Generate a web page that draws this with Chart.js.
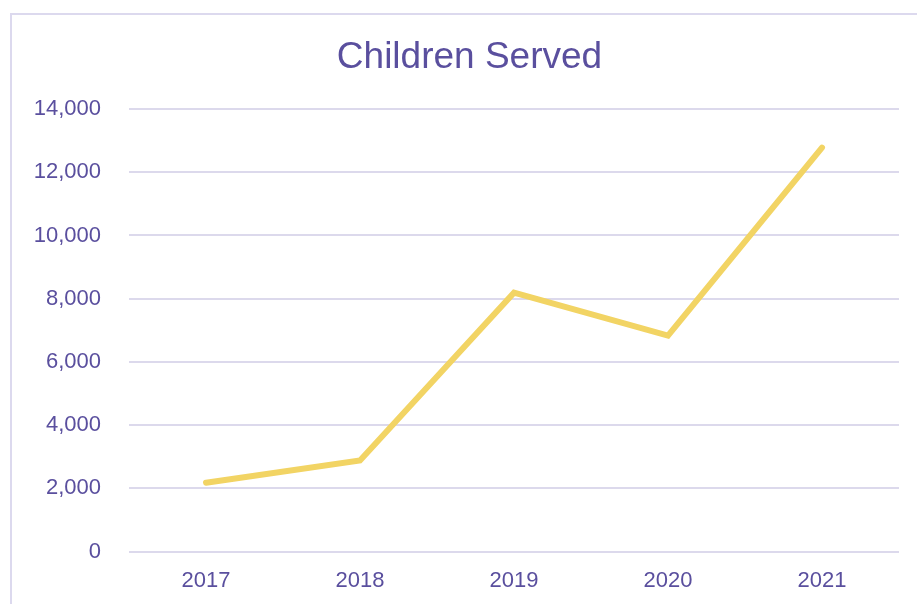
<!DOCTYPE html>
<html>
<head>
<meta charset="utf-8">
<script src="https://cdn.jsdelivr.net/npm/chart.js@4"></script>
<style>
    html, body { margin: 0; padding: 0; background: #ffffff; overflow: hidden; }
    #frame {
        position: absolute;
        left: 10px;
        top: 13px;
        width: 905px;
        height: 610px;
        border-left: 2px solid #dcd9ee;
        border-top: 2px solid #dcd9ee;
    }
</style>
</head>
<body>
<div id="frame"><canvas id="childrenChart" width="905" height="605"></canvas></div>
<script>
// Chart data
const years = ['2017', '2018', '2019', '2020', '2021'];
const childrenServed = [2180, 2880, 8190, 6830, 12780];
const yTicks = [0, 2000, 4000, 6000, 8000, 10000, 12000, 14000];

const titleText = 'Children Served';
const textColor = '#5a4f9e';
const gridColor = '#dcd9ec';

Chart.defaults.font.family = "'Liberation Sans', Arial, sans-serif";
Chart.defaults.color = textColor;

// title drawn by hand so it can sit a little right of the canvas centre
const titlePlugin = {
    id: 'offsetTitle',
    afterDraw(chart) {
        const c = chart.ctx;
        c.save();
        c.font = "37px 'Liberation Sans', Arial, sans-serif";
        c.fillStyle = textColor;
        c.textAlign = 'center';
        c.textBaseline = 'middle';
        c.fillText(titleText, chart.width / 2 + 5, 43);
        c.restore();
    }
};

const ctx = document.getElementById('childrenChart').getContext('2d');

const chart = new Chart(ctx, {
    type: 'line',
    data: {
        labels: years,
        datasets: [{
            label: titleText,
            data: childrenServed,
            borderColor: '#f2d464',
            borderWidth: 6,
            borderCapStyle: 'round',
            borderJoinStyle: 'miter',
            pointRadius: 0,
            tension: 0,
            fill: false
        }]
    },
    options: {
        responsive: false,
        animation: false,
        layout: {
            padding: { top: 94, right: 18, bottom: 10, left: 0 }
        },
        plugins: {
            legend: { display: false },
            tooltip: { enabled: false },
            title: { display: false }
        },
        scales: {
            x: {
                offset: true,
                grid: { display: false, drawTicks: false },
                border: { display: false },
                ticks: {
                    color: textColor,
                    font: { size: 22 },
                    padding: 16,
                    maxRotation: 0
                }
            },
            y: {
                min: 0,
                max: 14000,
                afterBuildTicks: (axis) => {
                    axis.ticks = yTicks.map(v => ({ value: v }));
                },
                afterFit: (axis) => {
                    axis.width = 117;
                },
                grid: { color: gridColor, lineWidth: 2, drawTicks: false },
                border: { display: false },
                ticks: {
                    color: textColor,
                    font: { size: 22 },
                    padding: 28,
                    callback: (v) => v.toLocaleString('en-US')
                }
            }
        }
    },
    plugins: [titlePlugin]
});
</script>
</body>
</html>
